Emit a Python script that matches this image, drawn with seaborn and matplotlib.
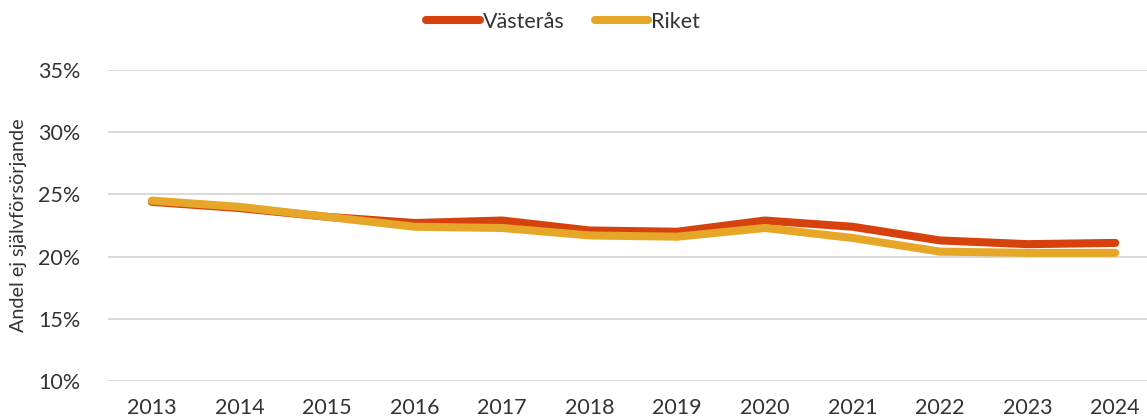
import matplotlib
matplotlib.use("Agg")
import matplotlib.pyplot as plt
import seaborn as sns
import pandas as pd
from matplotlib.ticker import PercentFormatter

# Share of population not self-supporting, per year
years = list(range(2013, 2025))
vasteras = [24.4, 23.9, 23.2, 22.7, 22.9, 22.1, 22.0, 22.9, 22.4, 21.3, 21.0, 21.1]
riket = [24.5, 24.0, 23.2, 22.4, 22.3, 21.7, 21.6, 22.3, 21.5, 20.4, 20.3, 20.3]
series_names = ["Västerås", "Riket"]
y_ticks = [10, 15, 20, 25, 30, 35]

df = pd.DataFrame({
    "År": years * 2,
    "Andel": vasteras + riket,
    "Område": [series_names[0]] * len(years) + [series_names[1]] * len(years),
})

sns.set_theme(style="white")
plt.rcParams["font.family"] = ["Lato", "DejaVu Sans"]

text_color = "#333333"
palette = {"Västerås": "#D7410E", "Riket": "#E6A729"}

fig = plt.figure(figsize=(11.47, 4.20), dpi=100)
ax = fig.add_axes([108 / 1147, 39 / 420, 1051 / 1147, 311 / 420])

sns.lineplot(data=df, x="År", y="Andel", hue="Område", hue_order=series_names,
             palette=palette, linewidth=5.8, ax=ax, legend=False,
             solid_capstyle="round", solid_joinstyle="round")

ax.set_xlim(2012.5, 2024.5)
ax.set_ylim(10, 35)
ax.set_xticks(years)
ax.set_xticklabels([str(y) for y in years])
ax.set_yticks(y_ticks)
ax.yaxis.set_major_formatter(PercentFormatter(decimals=0))
ax.grid(axis="y", color="#d9d9d9", linewidth=1.4)
ax.set_axisbelow(True)
for s in ax.spines.values():
    s.set_visible(False)
ax.tick_params(axis="both", length=0, labelsize=15.5, labelcolor=text_color)
ax.tick_params(axis="x", pad=12)
ax.tick_params(axis="y", pad=20)
ax.set_xlabel("")
ax.set_ylabel("Andel ej självförsörjande", fontsize=14.2, color=text_color,
              labelpad=8)

handles = [plt.Line2D([], [], color=palette[n], linewidth=5.8,
                      solid_capstyle="round") for n in series_names]
fig.legend(handles, series_names, loc="center", ncol=2,
           bbox_to_anchor=(563 / 1147, 1 - 22 / 420), frameon=False,
           fontsize=15.5, handlelength=2.5, handletextpad=0.12,
           columnspacing=1.4, labelcolor=text_color)

fig.savefig("out.png", dpi=100)
